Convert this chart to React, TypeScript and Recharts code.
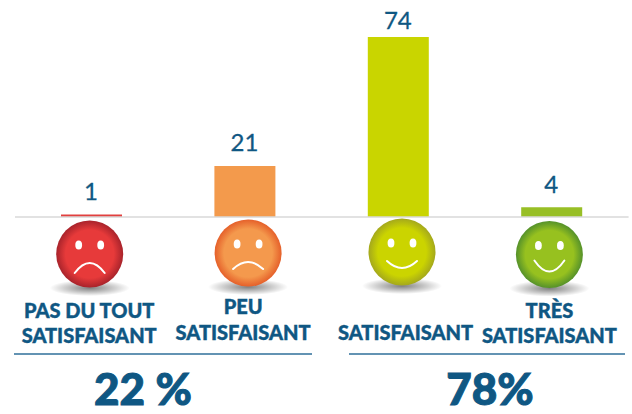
import React from "react";
import { Bar, BarChart, Cell, LabelList, XAxis, YAxis } from "recharts";

const categories = ["PAS DU TOUT SATISFAISANT", "PEU SATISFAISANT", "SATISFAISANT", "TRÈS SATISFAISANT"];
const tickLines = [["PAS DU TOUT", "SATISFAISANT"], ["PEU", "SATISFAISANT"], ["SATISFAISANT"], ["TRÈS", "SATISFAISANT"]];
const values = [1, 21, 74, 4];
const barColors = ["#e2403f", "#f39a4c", "#c9d500", "#98bf26"];
const faceInner = ["#e73a3a", "#f4994d", "#cbd400", "#97c11f"];
const faceOuter = ["#a8232b", "#e5602a", "#a4a81c", "#55912a"];
const faceDx = [-2, 3, 3.5, -2.5];
const faceCy = [254, 253, 252, 254.5];
const mouths = [
  "M-15 19 Q0 -1 15 19",
  "M-15 16 Q0 2 15 16",
  "M-15 9 Q0 23 15 9",
  "M-15 6 Q0 28 15 6",
];
const labelDx = [-2.5, -2, 7, -2.5];
const labelY = [[318, 343], [314, 340], [340], [318, 343]];
const valueGap = [15, 15, 8, 14];
const summary = [
  { text: "22 %", x: 143, x1: 14, x2: 312 },
  { text: "78%", x: 490, x1: 349, x2: 625 },
];

const data = categories.map((name, i) => ({ name, value: values[i] }));
const BLUE = "#0f5783";
const TITLE_FONT = "Lato, 'Open Sans', sans-serif";

const FaceTick = (props: any) => {
  const { x, index } = props;
  const cx = x + faceDx[index];
  const cy = faceCy[index];
  return (
    <g>
      <ellipse cx={cx} cy={cy + 34} rx={40} ry={8} fill="url(#shadow)" />
      <circle cx={cx} cy={cy} r={33.5} fill={`url(#face${index})`} />
      <ellipse cx={cx - 11} cy={cy - 9} rx={3.4} ry={4.6} fill="#fff" />
      <ellipse cx={cx + 11} cy={cy - 9} rx={3.4} ry={4.6} fill="#fff" />
      <path
        d={mouths[index]}
        transform={`translate(${cx} ${cy})`}
        fill="none"
        stroke="#fff"
        strokeWidth={2}
        strokeLinecap="round"
      />
      {tickLines[index].map((line, j) => (
        <text
          key={j}
          x={x + labelDx[index]}
          y={labelY[index][j]}
          textAnchor="middle"
          fontFamily={TITLE_FONT}
          fontWeight={900}
          fontSize={20}
          stroke={BLUE}
          strokeWidth={0.4}
          fill={BLUE}
        >
          {line}
        </text>
      ))}
    </g>
  );
};

const ValueLabel = (props: any) => {
  const { x, y, width, value, index } = props;
  return (
    <text
      x={x + width / 2 - 0.5}
      y={y - valueGap[index]}
      textAnchor="middle"
      fontFamily={TITLE_FONT}
      fontSize={24}
      stroke={BLUE}
      strokeWidth={0.3}
      fill={BLUE}
    >
      {value}
    </text>
  );
};

export default function App() {
  return (
    <div style={{ position: "absolute", left: 0, top: 0, width: 632, height: 414, background: "#fff", overflow: "hidden" }}>
      <BarChart
        width={632}
        height={414}
        data={data}
        barSize={61}
        margin={{ top: 22.4, right: 3.4, bottom: 167, left: 15 }}
      >
        <defs>
          {faceInner.map((c, i) => (
            <radialGradient key={i} id={`face${i}`}>
              <stop offset="0%" stopColor={c} />
              <stop offset="72%" stopColor={c} />
              <stop offset="100%" stopColor={faceOuter[i]} />
            </radialGradient>
          ))}
          <radialGradient id="shadow">
            <stop offset="0%" stopColor="#000" stopOpacity={0.5} />
            <stop offset="100%" stopColor="#000" stopOpacity={0} />
          </radialGradient>
        </defs>
        <YAxis hide domain={[0, 80]} />
        <XAxis
          dataKey="name"
          height={30}
          interval={0}
          axisLine={{ stroke: "#d9d9d9", strokeWidth: 1.5 }}
          tickLine={false}
          tick={<FaceTick />}
        />
        <Bar dataKey="value" isAnimationActive={false}>
          {data.map((_, i) => (
            <Cell key={i} fill={barColors[i]} />
          ))}
          <LabelList dataKey="value" content={<ValueLabel />} />
        </Bar>
      </BarChart>
      <svg width={632} height={414} style={{ position: "absolute", left: 0, top: 0, pointerEvents: "none" }}>
        {summary.map((s) => (
          <g key={s.text}>
            <line x1={s.x1} x2={s.x2} y1={354} y2={354} stroke="#2f6f9a" strokeWidth={1.5} />
            <text
              x={s.x}
              y={404.5}
              textAnchor="middle"
              fontFamily={TITLE_FONT}
              fontWeight={900}
              fontSize={44}
              stroke={BLUE}
              strokeWidth={1}
              fill={BLUE}
            >
              {s.text}
            </text>
          </g>
        ))}
      </svg>
    </div>
  );
}
